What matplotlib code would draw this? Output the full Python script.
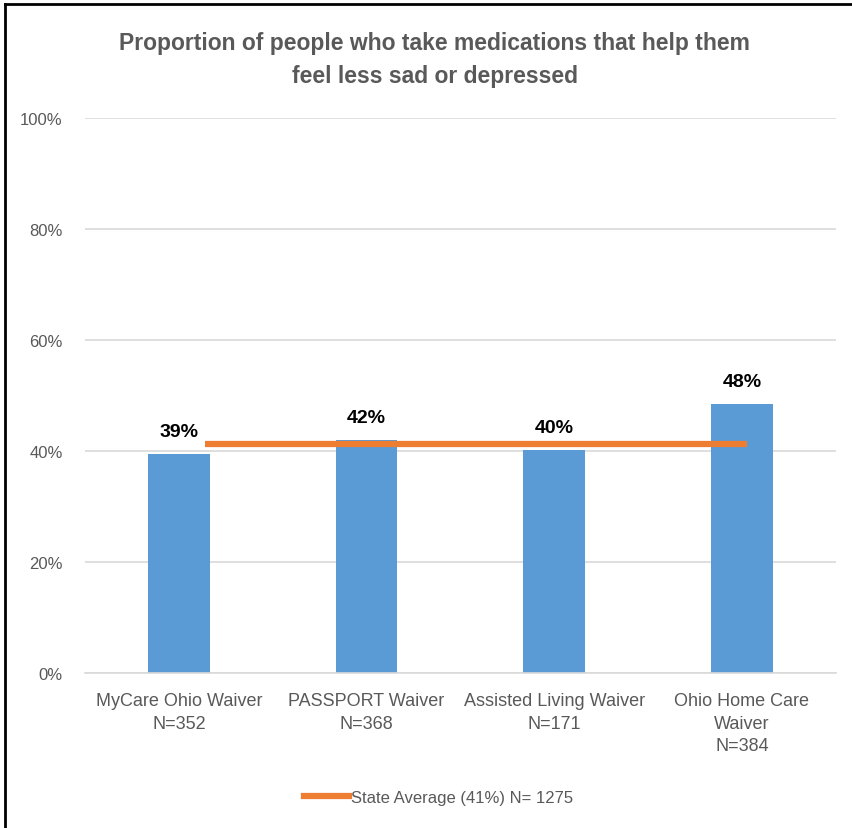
import matplotlib

matplotlib.use("Agg")
import matplotlib.pyplot as plt
import numpy as np
from matplotlib.lines import Line2D

categories = [
    "MyCare Ohio Waiver\nN=352",
    "PASSPORT Waiver\nN=368",
    "Assisted Living Waiver\nN=171",
    "Ohio Home Care\nWaiver\nN=384",
]
values = [0.395, 0.42, 0.402, 0.485]
value_labels = ["39%", "42%", "40%", "48%"]
state_avg = 0.413
legend_label = "State Average (41%) N= 1275"
title = "Proportion of people who take medications that help them\nfeel less sad or depressed"

plt.rcParams["font.family"] = ["Liberation Sans", "DejaVu Sans"]

gray = "#595959"
blue = "#5B9BD5"
orange = "#ED7D31"

fig = plt.figure(figsize=(8.52, 8.29), dpi=100)
ax = fig.add_axes([0.0998, 0.187, 0.881, 0.6695])

x = np.arange(len(categories))
ax.bar(x, values, width=0.33, color=blue, zorder=2)

# state average line spans the categories (slightly offset, as in the source)
ax.plot([x[0] + 0.14, x[-1] + 0.03], [state_avg, state_avg], color=orange,
        lw=4.5, solid_capstyle="butt", zorder=3)

for xi, v, lab in zip(x, values, value_labels):
    ax.text(xi, v + 0.025, lab, ha="center", va="bottom", fontsize=14,
            fontweight="bold", color="black", zorder=4,
            bbox=dict(facecolor="white", edgecolor="none", pad=0.5))

ax.set_xlim(-0.5, len(categories) - 0.5)
ax.set_ylim(0, 1)
ax.set_yticks(np.arange(0, 1.01, 0.2))
ax.set_yticklabels([f"{int(round(t * 100))}%" for t in np.arange(0, 1.01, 0.2)])
ax.set_xticks(x)
ax.set_xticklabels(categories, linespacing=1.4, fontsize=13)
ax.tick_params(axis="both", length=0, labelsize=12, labelcolor=gray)
ax.tick_params(axis="x", labelsize=13, pad=14)
ax.tick_params(axis="y", pad=16)
ax.grid(axis="y", color="#D9D9D9", lw=1.2, zorder=0)
for s in ["top", "right", "left"]:
    ax.spines[s].set_visible(False)
ax.spines["bottom"].set_color("#D9D9D9")
ax.spines["bottom"].set_linewidth(1.2)

fig.text(0.51, 0.962, title, ha="center", va="top", fontsize=16.5,
         fontweight="bold", color=gray, linespacing=1.6)

handle = Line2D([], [], color=orange, lw=4.5)
fig.legend([handle], [legend_label], loc="center", bbox_to_anchor=(0.515, 0.037),
           frameon=False, fontsize=12, handlelength=2.7, handletextpad=0.1,
           labelcolor=gray)

# frame of the screenshot (left and top edges)
fig.add_artist(Line2D([0.006, 0.006], [0, 0.994], color="black", lw=2,
                      transform=fig.transFigure))
fig.add_artist(Line2D([0.006, 1], [0.994, 0.994], color="black", lw=2,
                      transform=fig.transFigure))

fig.savefig("out.png", dpi=100)
plt.close(fig)
